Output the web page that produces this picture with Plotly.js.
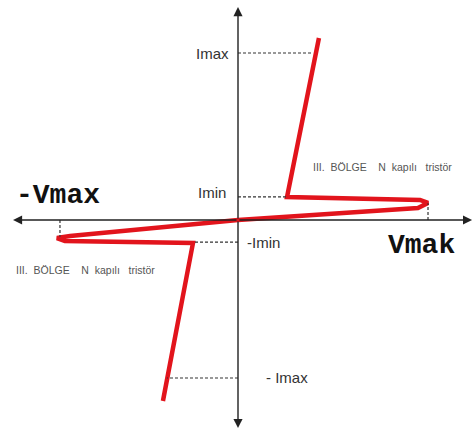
<!DOCTYPE html>
<html>
<head>
<meta charset="utf-8">
<script src="https://cdn.plot.ly/plotly-3.0.1.min.js"></script>
<style>html,body{margin:0;padding:0;background:#fff;}#chart{width:473px;height:439px;}</style>
</head>
<body>
<div id="chart"></div>
<script>
// Characteristic curve (V normalised so Vmax = 10, I normalised so Imax = 10)
var curveV = [4.26, 2.58, 9.58, 10.0, 9.47, 0, -8.84, -9.53, -9.11, -2.37, -3.95];
var curveI = [10.9, 1.38, 1.20, 1.02, 0.72, 0, -0.96, -1.08, -1.26, -1.38, -10.84];

// Reference levels
var Imax = 10.0, Imin = 1.38, negImin = -1.32, negImax = -9.46;
var Vmax = 10.0, negVmax = -9.37;
var ImaxV = 3.95, IminV = 2.58, negIminV = -2.37, negImaxV = -3.74;
var tipI = 1.0, negTipI = -1.0;

// Texts
var lblImax = "Imax", lblImin = "Imin", lblNegImin = "-Imin", lblNegImax = "- Imax";
var lblNegVmax = "-Vmax", lblVmax = "Vmak";
var regionText = "III.  BÖLGE    N  kapılı   tristör";

var trace = {
  x: curveV, y: curveI, mode: 'lines', type: 'scatter',
  line: {color: '#e2141c', width: 4.5, shape: 'linear'},
  hoverinfo: 'skip'
};

function dashed(x0, y0, x1, y1) {
  return {type: 'line', xref: 'x', yref: 'y', x0: x0, y0: y0, x1: x1, y1: y1,
          line: {color: '#333', width: 1.2, dash: '3px,2px'}};
}
function arrow(x, y, ax, ay) {
  return {x: x, y: y, ax: ax, ay: ay, xref: 'x', yref: 'y', axref: 'x', ayref: 'y',
          text: '', showarrow: true, arrowhead: 2, arrowsize: 1.3, arrowwidth: 1.4, arrowcolor: '#222'};
}
function label(t, x, y, xa, font) {
  return {x: x, y: y, xref: 'x', yref: 'y', text: t, showarrow: false, xanchor: xa, yanchor: 'middle', font: font};
}
var sans = {family: 'Liberation Sans, Arial, sans-serif', size: 15, color: '#333'};
var mono = {family: 'Liberation Mono, Courier New, monospace', size: 28, color: '#111', weight: 'bold'};
var small = {family: 'Liberation Sans Narrow, Arial Narrow, Liberation Sans, sans-serif', size: 10.5, color: '#555'};

var layout = {
  width: 473, height: 439,
  margin: {l: 0, r: 0, t: 0, b: 0},
  paper_bgcolor: '#fff', plot_bgcolor: '#fff',
  showlegend: false,
  xaxis: {range: [-12.526, 12.368], visible: false, fixedrange: true},
  yaxis: {range: [-13.114, 13.174], visible: false, fixedrange: true},
  shapes: [
    dashed(0, Imax, ImaxV, Imax),
    dashed(0, Imin, IminV, Imin),
    dashed(0, negImin, negIminV, negImin),
    dashed(0, negImax, negImaxV, negImax),
    dashed(Vmax, 0, Vmax, tipI),
    dashed(negVmax, 0, negVmax, negTipI)
  ],
  annotations: [
    arrow(12.32, 0, 0, 0),
    arrow(-11.84, 0, 0, 0),
    arrow(0, 12.75, 0, 0),
    arrow(0, -12.46, 0, 0),
    label(lblImax, -0.37, Imax, 'right', sans),
    label(lblImin, -0.53, 1.62, 'right', sans),
    label(lblNegImin, 0.37, negImin, 'left', sans),
    label(lblNegImax, 1.37, negImax, 'left', sans),
    label(lblNegVmax, -11.8, 1.44, 'left', mono),
    label(lblVmax, 7.8, -1.5, 'left', mono),
    label(regionText, 3.84, 3.17, 'left', small),
    label(regionText, -11.79, -2.99, 'left', small)
  ]
};

Plotly.newPlot('chart', [trace], layout, {staticPlot: true, displayModeBar: false});
</script>
</body>
</html>
